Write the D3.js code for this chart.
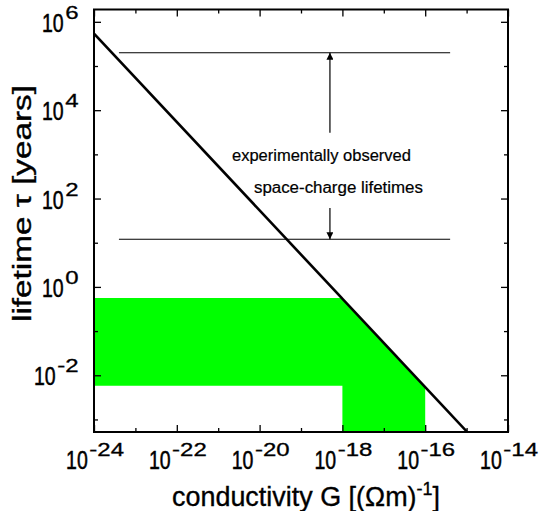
<!DOCTYPE html>
<html>
<head>
<meta charset="utf-8">
<script src="https://cdn.jsdelivr.net/npm/d3@7"></script>
<style>
  body { margin: 0; background: #fff; }
  svg text { font-family: "Liberation Sans", Arial, Helvetica, sans-serif; fill: #000; }
</style>
</head>
<body>
<svg id="chart"></svg>
<script>
// decade exponents for the axes
const xExponents = [-24, -23, -22, -21, -20, -19, -18, -17, -16, -15, -14];
const yExponents = [-3, -2, -1, 0, 1, 2, 3, 4, 5, 6];

// lifetime line tau = eps/G (two points)
const lineG = [1e-24, 1e-15];
const lineTau = [5.4e5, 5.4e-4];

// green region (conductivity, lifetime)
const regionG = [1e-24, 9.6e-19, 1e-16, 1e-16, 1e-18, 1e-18, 1e-24];
const regionTau = [0.56, 0.56, 5.4e-3, 1e-4, 1e-4, 5.8e-3, 5.8e-3];

// experimentally observed range
const observedG = [4e-24, 4e-16];
const observedTau = [2e5, 12];
const arrowG = 5e-19;
const arrowFromTau = [3.1e3, 61];

const annotations = ['experimentally observed', 'space-charge lifetimes'];
const annotationG = [2.15e-21, 7.3e-21];
const annotationTau = [7.0e2, 1.35e2];

class LifetimeChart {

  constructor(_config) {
    this.config = {
      parentElement: _config.parentElement,
      containerWidth: 539,
      containerHeight: 511,
      margin: {top: 9.5, right: 31, bottom: 79, left: 94}
    }
    this.initVis();
  }

  initVis() {
    let vis = this;
    const m = vis.config.margin;
    vis.width = vis.config.containerWidth - m.left - m.right;
    vis.height = vis.config.containerHeight - m.top - m.bottom;

    vis.svg = d3.select(vis.config.parentElement)
        .attr('width', vis.config.containerWidth)
        .attr('height', vis.config.containerHeight);

    vis.chart = vis.svg.append('g')
        .attr('transform', `translate(${m.left},${m.top})`);

    vis.x = d3.scaleLog().domain([1e-24, 1e-14]).range([0, vis.width]);
    vis.y = d3.scaleLog().domain([5.2e-4, 1.9e6]).range([vis.height, 0]);

    vis.chart.append('defs').append('clipPath')
        .attr('id', 'plot-clip')
      .append('rect')
        .attr('width', vis.width)
        .attr('height', vis.height);

    vis.chart.select('defs').append('marker')
        .attr('id', 'arrow-head')
        .attr('markerUnits', 'userSpaceOnUse')
        .attr('viewBox', '0 0 10 10')
        .attr('refX', 10)
        .attr('refY', 5)
        .attr('markerWidth', 12)
        .attr('markerHeight', 7)
        .attr('orient', 'auto')
      .append('path')
        .attr('d', 'M0,0 L10,5 L0,10 Z')
        .attr('fill', '#000');

    vis.plot = vis.chart.append('g').attr('clip-path', 'url(#plot-clip)');
    vis.renderVis();
  }

  // "10" plus raised exponent; base is tall and narrow, exponent wide and flat
  powerLabel(sel, anchor) {
    const baseW = 21.7;
    const expText = e => (e < 0 ? '-' + Math.abs(e) : String(e));
    const expW = e => String(Math.abs(e)).length * 13.3 + (e < 0 ? 8 : 0);
    sel.each(function(e) {
      const g = d3.select(this);
      const total = baseW + 1.5 + expW(e);
      const x0 = anchor === 'middle' ? -total / 2 + 1 : -total;
      g.append('text')
          .attr('transform', `translate(${x0},0) scale(1,1.28)`)
          .attr('font-size', 19.5)
          .attr('stroke', '#000')
          .attr('stroke-width', 0.4)
          .text('10');
      g.append('text')
          .attr('transform', `translate(${x0 + baseW + 1.5},-13) scale(1,0.74)`)
          .attr('font-size', 24)
          .attr('stroke', '#000')
          .attr('stroke-width', 0.4)
          .text(expText(e));
    });
  }

  renderVis() {
    let vis = this;

    // green region
    const region = regionG.map((g, i) => [vis.x(g), vis.y(regionTau[i])]);
    vis.plot.append('path')
        .attr('d', d3.line()(region) + 'Z')
        .attr('fill', '#00ff00');

    // lifetime line
    vis.plot.append('path')
        .attr('d', d3.line()(lineG.map((g, i) => [vis.x(g), vis.y(lineTau[i])])))
        .attr('stroke', '#000')
        .attr('stroke-width', 2.6)
        .attr('fill', 'none');

    // horizontal observed limits
    vis.chart.selectAll('.limit')
      .data(observedTau)
      .join('line')
        .attr('class', 'limit')
        .attr('x1', vis.x(observedG[0]))
        .attr('x2', vis.x(observedG[1]))
        .attr('y1', d => vis.y(d))
        .attr('y2', d => vis.y(d))
        .attr('stroke', '#000')
        .attr('stroke-width', 1.1);

    // arrows
    vis.chart.selectAll('.arrow')
      .data(observedTau)
      .join('line')
        .attr('class', 'arrow')
        .attr('x1', vis.x(arrowG))
        .attr('x2', vis.x(arrowG))
        .attr('y1', (d, i) => vis.y(arrowFromTau[i]))
        .attr('y2', d => vis.y(d))
        .attr('stroke', '#000')
        .attr('stroke-width', 1.2)
        .attr('marker-end', 'url(#arrow-head)');

    vis.chart.selectAll('.note')
      .data(annotations)
      .join('text')
        .attr('class', 'note')
        .attr('x', (d, i) => vis.x(annotationG[i]))
        .attr('y', (d, i) => vis.y(annotationTau[i]))
        .attr('font-size', 16)
        .attr('stroke', '#000')
        .attr('stroke-width', 0.2)
        .attr('textLength', (d, i) => [179, 169][i])
        .attr('lengthAdjust', 'spacingAndGlyphs')
        .text(d => d);

    // axes with inward ticks on all four sides
    const major = e => e % 2 === 0;
    const xMajor = xExponents.filter(major).map(e => Math.pow(10, e));
    const xMinor = xExponents.filter(e => !major(e)).map(e => Math.pow(10, e));
    const yMajor = yExponents.filter(major).map(e => Math.pow(10, e));
    const yMinor = yExponents.filter(e => !major(e)).map(e => Math.pow(10, e));

    const axes = [
      [d3.axisBottom(vis.x), `translate(0,${vis.height})`, xMajor, xMinor],
      [d3.axisTop(vis.x), null, xMajor, xMinor],
      [d3.axisLeft(vis.y), null, yMajor, yMinor],
      [d3.axisRight(vis.y), `translate(${vis.width},0)`, yMajor, yMinor]
    ];
    axes.forEach(([axis, tr, maj, min]) => {
      [[maj, -7], [min, -4]].forEach(([vals, size]) => {
        const g = vis.chart.append('g')
            .attr('transform', tr)
            .call(axis.tickValues(vals).tickSizeInner(size).tickSizeOuter(0).tickFormat(''));
        g.select('.domain').remove();
        g.selectAll('line').attr('stroke-width', 1.3);
      });
    });

    vis.chart.append('rect')
        .attr('width', vis.width)
        .attr('height', vis.height)
        .attr('fill', 'none')
        .attr('stroke', '#000')
        .attr('stroke-width', 2);

    // tick labels 10^n
    vis.chart.selectAll('.xlabel')
      .data(xExponents.filter(major))
      .join('g')
        .attr('class', 'xlabel')
        .attr('transform', d => `translate(${vis.x(Math.pow(10, d))},${vis.height + 37})`)
        .call(sel => vis.powerLabel(sel, 'middle'));

    vis.chart.selectAll('.ylabel')
      .data(yExponents.filter(major))
      .join('g')
        .attr('class', 'ylabel')
        .attr('transform', d => `translate(-15.5,${vis.y(Math.pow(10, d)) + 10})`)
        .call(sel => vis.powerLabel(sel, 'end'));

    // axis titles
    const xt = vis.chart.append('text')
        .attr('x', 78)
        .attr('y', vis.height + 74)
        .attr('font-size', 27)
        .attr('stroke', '#000')
        .attr('stroke-width', 0.35)
        .attr('textLength', 268)
        .attr('lengthAdjust', 'spacingAndGlyphs');
    xt.append('tspan').text('conductivity G [(\u03A9m)');
    xt.append('tspan').attr('dy', -11).attr('font-size', 18).text('-1');
    xt.append('tspan').attr('dy', 11).text(']');

    vis.chart.append('text')
        .attr('transform', `translate(${30.5 - vis.config.margin.left},${322 - vis.config.margin.top}) rotate(-90)`)
        .attr('font-size', 26)
        .attr('stroke', '#000')
        .attr('stroke-width', 0.35)
        .attr('textLength', 237)
        .attr('lengthAdjust', 'spacingAndGlyphs')
        .text('lifetime \u03C4 [years]');
  }
}

new LifetimeChart({parentElement: '#chart'});
</script>
</body>
</html>
